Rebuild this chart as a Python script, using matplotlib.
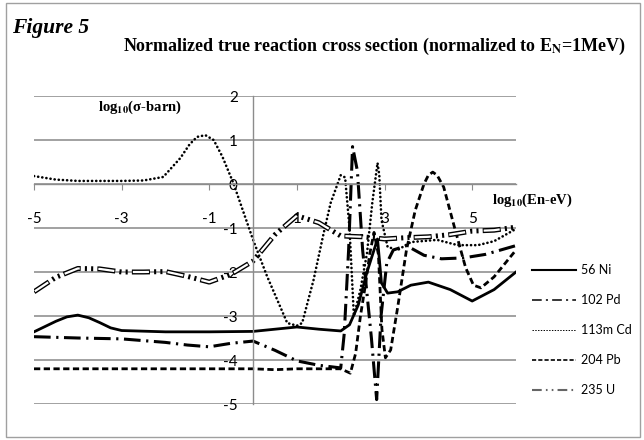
import matplotlib
matplotlib.use("Agg")

import matplotlib.pyplot as plt
from matplotlib.lines import Line2D
from matplotlib.patches import Rectangle

plt.rcParams.update({
    "font.family": ["Lato", "DejaVu Sans"],
    "axes.unicode_minus": False,
    "lines.scale_dashes": False,
    "mathtext.fontset": "stix",
})

# ── data (log10 En [eV], log10 sigma [barn]) ──
ni_x = [-5, -4.75, -4.5, -4.25, -4, -3.75, -3.5, -3.25, -3, -2, -1, 0, 0.5, 1,
        1.5, 2, 2.2, 2.4, 2.6, 2.84, 2.93, 3.07, 3.3, 3.6, 4.0, 4.5, 5.0, 5.5, 6]
ni_y = [-3.36, -3.24, -3.12, -3.02, -2.98, -3.04, -3.15, -3.27, -3.33, -3.36,
        -3.36, -3.35, -3.3, -3.25, -3.3, -3.34, -3.2, -2.75, -2.0, -1.25, -2.25,
        -2.48, -2.45, -2.3, -2.23, -2.4, -2.66, -2.4, -2.0]

pd_x = [-5, -4, -3, -2, -1.5, -1, -0.5, 0, 0.5, 1, 1.5, 2.0, 2.08, 2.18, 2.27,
        2.38, 2.5, 2.7, 2.82, 2.92, 3.05, 3.2, 3.5, 3.9, 4.3, 4.8, 5.3, 6]
pd_y = [-3.47, -3.5, -3.52, -3.6, -3.66, -3.7, -3.62, -3.57, -3.78, -4.02, -4.12,
        -4.18, -3.4, -1.5, 0.85, 0.3, -1.5, -3.5, -4.9, -3.0, -1.8, -1.5, -1.4,
        -1.62, -1.7, -1.68, -1.6, -1.4]

cd_x = [-5, -4.5, -4, -3, -2.5, -2.05, -1.66, -1.45, -1.28, -1.09, -0.9, -0.7,
        -0.45, 0, 0.32, 0.78, 1.0, 1.12, 1.38, 1.61, 1.77, 2.0, 2.1, 2.2, 2.3,
        2.45, 2.6, 2.72, 2.84, 2.88, 2.93, 3.07, 3.3, 3.6, 4.2, 4.67, 5.13, 5.5, 6]
cd_y = [0.18, 0.1, 0.07, 0.07, 0.08, 0.16, 0.59, 0.9, 1.07, 1.11, 1.0, 0.62, 0.02,
        -1.27, -2.1, -3.16, -3.22, -3.16, -2.18, -1.12, -0.43, 0.2, 0.15, -1.0,
        -3.0, -2.4, -1.57, -0.43, 0.48, 0.2, -0.82, -1.43, -1.5, -1.32, -1.27,
        -1.39, -1.39, -1.3, -1.02]

pb_x = [-5, 0, 0.5, 1, 2.0, 2.22, 2.34, 2.45, 2.57, 2.66, 2.76, 2.86, 2.94, 3.02,
        3.14, 3.3, 3.5, 3.7, 3.9, 4.0, 4.1, 4.2, 4.35, 4.6, 4.85, 5.03, 5.2, 5.5, 6]
pb_y = [-4.2, -4.2, -4.22, -4.2, -4.2, -4.3, -3.85, -3.0, -2.25, -1.6, -1.1, -1.6,
        -3.3, -3.95, -3.77, -2.8, -1.5, -0.6, 0.0, 0.2, 0.27, 0.2, -0.07, -1.0,
        -1.9, -2.3, -2.36, -2.11, -1.5]

u_x = [-5, -4.5, -4, -3.5, -3, -2.5, -2, -1.5, -1, -0.5, 0, 0.5, 1, 1.5, 2, 2.5,
       3, 3.5, 4, 4.5, 5, 5.5, 6]
u_y = [-2.45, -2.12, -1.92, -1.93, -2.0, -2.0, -1.99, -2.1, -2.23, -2.05, -1.75,
       -1.15, -0.72, -0.88, -1.18, -1.2, -1.25, -1.22, -1.2, -1.15, -1.07, -1.05,
       -0.98]

labels = ["56 Ni", "102 Pd", "113m Cd", "204 Pb", "235 U"]
x_ticks = [-5, -3, -1, 1, 3, 5]
y_ticks = [-5, -4, -3, -2, -1, 0, 1, 2]

fig = plt.figure(figsize=(6.44, 4.40), dpi=100)
fig.add_artist(Rectangle((6 / 644, 3 / 440), 634 / 644, 434 / 440,
                         transform=fig.transFigure, fill=False,
                         edgecolor="#a0a0a0", lw=1.0))

ax = fig.add_axes([34 / 644, 1 - 404 / 440, 482 / 644, 308 / 440])

ax.plot(ni_x, ni_y, color="black", lw=2.0, solid_joinstyle="round")
ax.plot(pd_x, pd_y, color="black", lw=2.2, linestyle=(0, (12, 4, 1.6, 4)))
ax.plot(cd_x, cd_y, color="black", lw=1.9, linestyle=(0, (0.1, 2.9)),
        dash_capstyle="round")
ax.plot(pb_x, pb_y, color="black", lw=2.0, linestyle=(0, (4.5, 2.5)))
# 235 U: double (hollow) line, long dash - dot - dot (both patterns 25 pt long)
ax.plot(u_x, u_y, color="black", lw=3.6, linestyle=(0, (13, 3, 1.5, 3, 1.5, 3)))
ax.plot(u_x, u_y, color="white", lw=1.6, linestyle=(24.3, (11.6, 13.4)))

ax.set_xlim(-5, 6)
ax.set_ylim(-5, 2)
ax.set_xticks(x_ticks)
ax.set_yticks(y_ticks)

for side in ("top", "right"):
    ax.spines[side].set_visible(False)
ax.spines["left"].set_position(("data", 0))
ax.spines["bottom"].set_position(("data", 0))
for side in ("left", "bottom"):
    ax.spines[side].set_color("#8c8c8c")
    ax.spines[side].set_linewidth(1.0)

ax.set_axisbelow(True)
ax.grid(axis="y", color="#9a9a9a", lw=1.3)
ax.tick_params(axis="x", direction="out", length=4.5, color="#8c8c8c",
               pad=16, labelsize=11)
ax.tick_params(axis="y", length=0, pad=11, labelsize=11)

# legend with thin sample lines, as in the original
handles = [
    Line2D([], [], color="black", lw=1.5),
    Line2D([], [], color="black", lw=1.1, linestyle=(0, (7, 3, 1.5, 3))),
    Line2D([], [], color="black", lw=0.7, linestyle=(0, (1, 1))),
    Line2D([], [], color="black", lw=1.2, linestyle=(0, (3, 1.5))),
    Line2D([], [], color="#666666", lw=1.5, linestyle=(0, (7, 3, 1.2, 3, 1.2, 3))),
]
fig.legend(handles, labels, loc="upper left",
           bbox_to_anchor=(532 / 644, 1 - 264 / 440), frameon=False,
           fontsize=9, handlelength=3.5, handletextpad=0.45,
           labelspacing=1.45, borderpad=0, borderaxespad=0)

fig.text(12 / 644, 1 - 28 / 440, "Figure 5", family="Liberation Serif",
         style="italic", weight="bold", fontsize=15.5, va="center", ha="left")
fig.text(375 / 644, 1 - 46 / 440,
         r"Normalized true reaction cross section (normalized to E$_{\mathbf{N}}$=1MeV)",
         family="Liberation Serif", weight="bold", fontsize=13,
         va="center", ha="center")
fig.text(140 / 644, 1 - 107 / 440, r"log$_{\mathbf{10}}$(σ-barn)",
         family="Liberation Serif", weight="bold", fontsize=10.5,
         va="center", ha="center")
fig.text(532 / 644, 1 - 200 / 440, r"log$_{\mathbf{10}}$(En-eV)",
         family="Liberation Serif", weight="bold", fontsize=10.5,
         va="center", ha="center")

fig.savefig("out.png", dpi=100)
